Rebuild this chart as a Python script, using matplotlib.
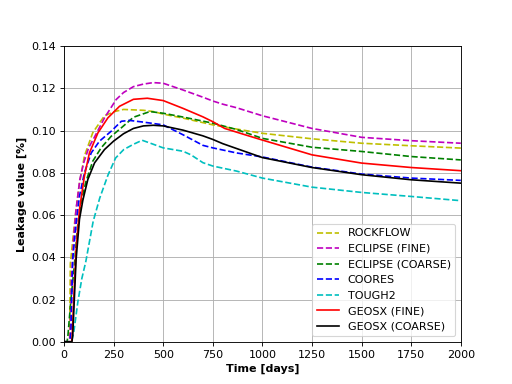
import matplotlib
matplotlib.use("Agg")
import matplotlib.pyplot as plt
import numpy as np

# (time [days], leakage value [%])
rockflow_t = [0, 28, 32, 44, 60, 78, 103, 145, 204, 255, 300, 400, 450, 500, 600, 750, 870, 1000, 1250, 1500, 1750, 2000]
rockflow_v = [0, 0, 0.037, 0.048, 0.062, 0.075, 0.088, 0.099, 0.107, 0.109, 0.110, 0.1096, 0.109, 0.1078, 0.1059, 0.1027, 0.1007, 0.0987, 0.0961, 0.094, 0.0928, 0.0917]

ecl_fine_t = [0, 30, 38, 48, 60, 80, 100, 125, 154, 204, 263, 300, 350, 400, 450, 500, 600, 700, 750, 800, 870, 1000, 1250, 1500, 1750, 2000]
ecl_fine_v = [0, 0, 0.03, 0.048, 0.062, 0.077, 0.085, 0.092, 0.097, 0.106, 0.1147, 0.118, 0.1208, 0.122, 0.1227, 0.1224, 0.1192, 0.1158, 0.114, 0.1125, 0.1108, 0.107, 0.101, 0.0968, 0.0952, 0.094]

ecl_coarse_t = [0, 15, 19, 35, 52, 69, 86, 111, 145, 187, 238, 289, 350, 433, 500, 600, 750, 870, 1000, 1250, 1500, 1750, 2000]
ecl_coarse_v = [0, 0, 0.002, 0.02, 0.036, 0.055, 0.066, 0.076, 0.0855, 0.0918, 0.0973, 0.1013, 0.1063, 0.109, 0.1082, 0.1064, 0.1035, 0.1005, 0.0963, 0.0921, 0.0901, 0.0877, 0.0861]

coores_t = [0, 28, 35, 44, 61, 78, 103, 137, 179, 238, 289, 330, 400, 500, 600, 700, 750, 870, 1000, 1250, 1500, 1750, 2000]
coores_v = [0, 0, 0.004, 0.039, 0.056, 0.069, 0.080, 0.0894, 0.095, 0.0997, 0.1044, 0.1048, 0.104, 0.1027, 0.098, 0.093, 0.0918, 0.0894, 0.0875, 0.0827, 0.0794, 0.0775, 0.0764]

tough2_t = [0, 38, 50, 70, 90, 110, 147, 180, 222, 260, 301, 350, 394, 433, 500, 600, 640, 700, 750, 870, 1000, 1250, 1500, 1750, 2000]
tough2_v = [0, 0, 0.005, 0.019, 0.030, 0.038, 0.057, 0.068, 0.079, 0.087, 0.091, 0.0935, 0.0954, 0.0941, 0.0918, 0.0902, 0.0885, 0.0848, 0.0832, 0.0808, 0.0775, 0.0732, 0.0707, 0.0688, 0.0668]

geosx_fine_t = [0, 38, 41, 49, 61, 78, 103, 128, 171, 221, 280, 350, 420, 500, 600, 700, 750, 810, 930, 1000, 1250, 1500, 1750, 2000]
geosx_fine_v = [0, 0, 0.002, 0.02, 0.0437, 0.0626, 0.0784, 0.0894, 0.0989, 0.106, 0.1115, 0.1148, 0.1153, 0.1142, 0.1105, 0.1065, 0.1042, 0.101, 0.0975, 0.0955, 0.0885, 0.0846, 0.0825, 0.081]

geosx_coarse_t = [0, 40, 44, 52, 61, 78, 95, 120, 154, 204, 250, 300, 350, 400, 450, 500, 600, 700, 750, 800, 900, 1000, 1250, 1500, 1750, 2000]
geosx_coarse_v = [0, 0, 0.003, 0.02, 0.039, 0.058, 0.067, 0.0768, 0.0847, 0.091, 0.095, 0.0985, 0.101, 0.1022, 0.1025, 0.1022, 0.1002, 0.0975, 0.0958, 0.0938, 0.0905, 0.0872, 0.0825, 0.0791, 0.0767, 0.0751]


def main():
	fig = plt.figure(figsize=(6.4, 4.8), dpi=80)
	ax = fig.add_subplot(111)

	ax.plot(rockflow_t, rockflow_v, "y--", label="ROCKFLOW")
	ax.plot(ecl_fine_t, ecl_fine_v, "m--", label="ECLIPSE (FINE)")
	ax.plot(ecl_coarse_t, ecl_coarse_v, "g--", label="ECLIPSE (COARSE)")
	ax.plot(coores_t, coores_v, "b--", label="COORES")
	ax.plot(tough2_t, tough2_v, "c--", label="TOUGH2")
	ax.plot(geosx_fine_t, geosx_fine_v, "r-", label="GEOSX (FINE)")
	ax.plot(geosx_coarse_t, geosx_coarse_v, "k-", label="GEOSX (COARSE)")

	ax.set_xlim(0, 2000)
	ax.set_ylim(0, 0.14)
	ax.set_xticks(np.arange(0, 2001, 250))
	ax.set_yticks(np.arange(0, 0.141, 0.02))
	ax.set_xlabel("Time [days]", fontweight="bold")
	ax.set_ylabel("Leakage value [%]", fontweight="bold")
	ax.grid(True)
	ax.legend(loc="lower right")

	fig.savefig("out.png", dpi=80)


if __name__ == '__main__':
	main()
